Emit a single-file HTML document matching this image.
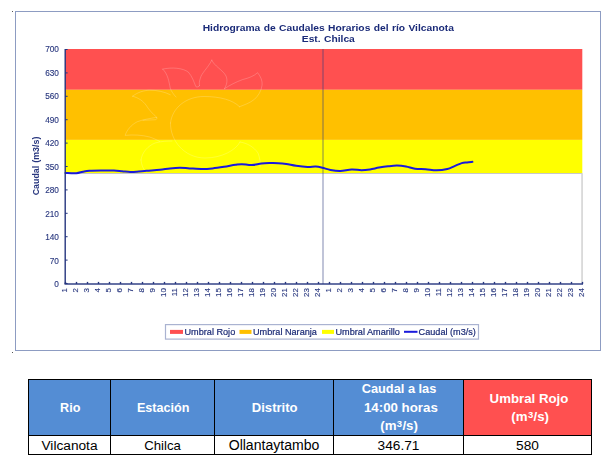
<!DOCTYPE html>
<html><head><meta charset="utf-8">
<style>
html,body{margin:0;padding:0;background:#fff;}
body{width:612px;height:465px;position:relative;overflow:hidden;font-family:"Liberation Sans",sans-serif;}
svg{position:absolute;left:0;top:0;filter:blur(0.35px);}
.ax{font-family:"Liberation Sans",sans-serif;font-size:8px;fill:#27367e;stroke:#27367e;stroke-width:0.12px;}
.ttl{font-family:"Liberation Sans",sans-serif;font-size:9.7px;font-weight:bold;fill:#1a2a78;}
.lg{font-family:"Liberation Sans",sans-serif;font-size:9.15px;fill:#1c2b76;stroke:#1c2b76;stroke-width:0.2px;}
table{position:absolute;left:28px;top:379px;border-collapse:collapse;table-layout:fixed;width:564px;}
td,th{border:1px solid #000;text-align:center;padding:0;font-family:"Liberation Sans",sans-serif;}
th{color:#fff;font-weight:bold;font-size:12.6px;height:55px;background:#548dd4;line-height:18px;}
th div{height:55px;display:flex;flex-direction:column;justify-content:center;overflow:visible;}
th div span{display:block;line-height:18.6px;height:18.6px;position:relative;}
th i{font-style:normal;font-size:9.5px;position:relative;top:-3.6px;margin:0 0.3px;}
th.b{font-size:13.1px;}
th.r{background:#ff5050;}
td{height:17px;padding-top:1px;font-size:13.7px;line-height:17px;color:#000;background:#fff;}
</style></head><body>
<svg width="612" height="465" viewBox="0 0 612 465">
<rect x="15.5" y="11.5" width="585" height="339" fill="#fff" stroke="#8d9cc2" stroke-width="1"/>
<rect x="12" y="11" width="1" height="1" fill="#555"/>
<rect x="12" y="352" width="1" height="1" fill="#555"/>
<rect x="65" y="49" width="517.3" height="40.8" fill="#ff5050"/>
<rect x="65" y="89.8" width="517.3" height="50.1" fill="#ffc000"/>
<rect x="65" y="139.9" width="517.3" height="33.6" fill="#ffff00"/>
<rect x="65" y="173" width="517.3" height="1" fill="#c8c8c8"/>
<rect x="581.3" y="173.5" width="1.5" height="110" fill="#d2d2d2"/>
<g fill="none" stroke="#fff" stroke-opacity="0.22" stroke-width="0.9" stroke-linecap="round" stroke-linejoin="round">
<path d="M170.5,123 C172,108 186,96.5 204,96.5 C220,96.5 233,100 239.5,106.7"/>
<path d="M170.5,123 C170,140 184,158 205,158 C222,158 236,150 240,142"/>
<path d="M162.7,69.1 C172,67 183,68 188.3,72.1 C192,76 194,82 195.8,86.5 C197,87.5 199,87 199.5,85.7"/>
<path d="M162.7,69.1 C168,74 169,82 170.2,88 C171,91 174,95 176,97"/>
<path d="M211.8,60.1 C208,68 201.5,73 200.4,78.1 C199.3,81 199,84 199.5,85.7"/>
<path d="M211.8,60.1 C214,66 223,70 226,76 C228,81 226.5,85 224.5,88.7"/>
<path d="M224.5,88.7 C230,85 236,82 242.5,79.6 C249,78 254,76 257.6,72.7 C261,77 262.5,81 262.1,85 C261.5,91 258,96 254.6,99.2 C250,103 244,105 239.5,106.7"/>
<path d="M132.6,96.2 C138,92 144,90.5 149.2,90.2 C157,90 165,92 170.2,94.7"/>
<path d="M132.6,96.2 C139,98 143,101 146.1,105.2 C149,110 153,114 156.7,117.3 C157.5,119 156,120 154,119.8 L143.1,120.3"/>
<path d="M156.7,117.3 C150,118.5 143,119.5 137.1,121.8 C131,125 127,130 125.1,135.4 C133,134.5 142,135 149.2,136.9 C153,138 157,140 159.7,141.4"/>
<path d="M141,160 C142,152 148,146 155,143 C162,141 168,141 172,141"/>
<path d="M141,160 C141.5,165 143,169 146,172"/>
<path d="M240,142 C247,143 254,147 258,153 C260,158 260.5,163 260,167"/>
</g>
<rect x="322.4" y="49" width="1.2" height="235" fill="#2f3b80" fill-opacity="0.5"/>
<path d="M65.50,173.00 C67.30,173.03 73.40,173.42 76.30,173.20 C79.20,172.98 80.72,172.12 82.90,171.70 C85.08,171.28 86.42,170.92 89.40,170.70 C92.38,170.48 96.72,170.43 100.80,170.40 C104.88,170.37 110.37,170.37 113.90,170.50 C117.43,170.63 119.27,170.95 122.00,171.20 C124.73,171.45 127.83,171.90 130.30,172.00 C132.77,172.10 134.08,171.99 136.80,171.80 C139.52,171.61 142.73,171.20 146.60,170.85 C150.47,170.50 156.10,170.11 160.00,169.70 C163.90,169.29 166.70,168.72 170.00,168.40 C173.30,168.08 176.53,167.80 179.80,167.80 C183.07,167.80 185.78,168.19 189.60,168.40 C193.42,168.61 198.88,169.05 202.70,169.05 C206.52,169.05 208.95,168.78 212.50,168.40 C216.05,168.03 220.18,167.40 224.00,166.80 C227.82,166.20 232.42,165.24 235.40,164.80 C238.38,164.36 239.18,164.10 241.90,164.15 C244.62,164.20 248.43,165.21 251.70,165.10 C254.97,164.99 258.45,163.83 261.50,163.50 C264.55,163.17 267.22,163.15 270.00,163.10 C272.78,163.05 275.48,163.05 278.20,163.20 C280.92,163.35 283.32,163.57 286.30,164.00 C289.28,164.43 292.55,165.32 296.10,165.80 C299.65,166.28 304.32,166.77 307.60,166.90 C310.88,167.03 313.35,166.46 315.80,166.60 C318.25,166.74 319.85,167.18 322.30,167.75 C324.75,168.32 327.50,169.46 330.50,170.00 C333.50,170.54 336.77,171.10 340.30,171.00 C343.83,170.90 348.17,169.53 351.70,169.40 C355.23,169.27 358.45,170.20 361.50,170.20 C364.55,170.20 367.08,169.83 370.00,169.40 C372.92,168.97 376.00,168.12 379.00,167.60 C382.00,167.08 385.00,166.63 388.00,166.30 C391.00,165.97 394.00,165.57 397.00,165.60 C400.00,165.63 403.00,165.98 406.00,166.50 C409.00,167.02 411.72,168.25 415.00,168.70 C418.28,169.15 422.12,168.93 425.70,169.20 C429.28,169.47 432.90,170.33 436.50,170.30 C440.10,170.27 444.30,169.70 447.30,169.00 C450.30,168.30 452.10,167.08 454.50,166.10 C456.90,165.12 459.62,163.72 461.70,163.10 C463.78,162.48 465.22,162.62 467.00,162.40 C468.78,162.18 471.50,161.90 472.40,161.80" fill="none" stroke="#1a1adc" stroke-width="2" stroke-linecap="round"/>
<rect x="64.5" y="49" width="1.4" height="235" fill="#26367f"/>
<rect x="64.5" y="283.3" width="518.5" height="1.4" fill="#26367f"/>
<text x="58.9" y="287.0" text-anchor="end" class="ax" style="font-size:8.25px">0</text>
<rect x="65" y="283.0" width="2.6" height="1" fill="#26367f"/>
<text x="58.9" y="263.6" text-anchor="end" class="ax" style="font-size:8.25px">70</text>
<rect x="65" y="259.6" width="2.6" height="1" fill="#26367f"/>
<text x="58.9" y="240.1" text-anchor="end" class="ax" style="font-size:8.25px">140</text>
<rect x="65" y="236.2" width="2.6" height="1" fill="#26367f"/>
<text x="58.9" y="216.6" text-anchor="end" class="ax" style="font-size:8.25px">210</text>
<rect x="65" y="212.8" width="2.6" height="1" fill="#26367f"/>
<text x="58.9" y="193.1" text-anchor="end" class="ax" style="font-size:8.25px">280</text>
<rect x="65" y="189.4" width="2.6" height="1" fill="#26367f"/>
<text x="58.9" y="169.6" text-anchor="end" class="ax" style="font-size:8.25px">350</text>
<rect x="65" y="166.0" width="2.6" height="1" fill="#26367f"/>
<text x="58.9" y="146.1" text-anchor="end" class="ax" style="font-size:8.25px">420</text>
<rect x="65" y="142.6" width="2.6" height="1" fill="#26367f"/>
<text x="58.9" y="122.6" text-anchor="end" class="ax" style="font-size:8.25px">490</text>
<rect x="65" y="119.2" width="2.6" height="1" fill="#26367f"/>
<text x="58.9" y="99.1" text-anchor="end" class="ax" style="font-size:8.25px">560</text>
<rect x="65" y="95.8" width="2.6" height="1" fill="#26367f"/>
<text x="58.9" y="75.6" text-anchor="end" class="ax" style="font-size:8.25px">630</text>
<rect x="65" y="72.4" width="2.6" height="1" fill="#26367f"/>
<text x="58.9" y="52.1" text-anchor="end" class="ax" style="font-size:8.25px">700</text>
<rect x="65" y="49.0" width="2.6" height="1" fill="#26367f"/>
<rect x="64.8" y="281.9" width="1.4" height="2" fill="#26367f"/>
<text transform="translate(67.1,288) rotate(-90)" text-anchor="end" class="ax">1</text>
<rect x="75.8" y="281.9" width="1.4" height="2" fill="#26367f"/>
<text transform="translate(78.1,288) rotate(-90)" text-anchor="end" class="ax">2</text>
<rect x="86.8" y="281.9" width="1.4" height="2" fill="#26367f"/>
<text transform="translate(89.1,288) rotate(-90)" text-anchor="end" class="ax">3</text>
<rect x="97.8" y="281.9" width="1.4" height="2" fill="#26367f"/>
<text transform="translate(100.1,288) rotate(-90)" text-anchor="end" class="ax">4</text>
<rect x="108.8" y="281.9" width="1.4" height="2" fill="#26367f"/>
<text transform="translate(111.1,288) rotate(-90)" text-anchor="end" class="ax">5</text>
<rect x="119.8" y="281.9" width="1.4" height="2" fill="#26367f"/>
<text transform="translate(122.1,288) rotate(-90)" text-anchor="end" class="ax">6</text>
<rect x="130.8" y="281.9" width="1.4" height="2" fill="#26367f"/>
<text transform="translate(133.1,288) rotate(-90)" text-anchor="end" class="ax">7</text>
<rect x="141.8" y="281.9" width="1.4" height="2" fill="#26367f"/>
<text transform="translate(144.1,288) rotate(-90)" text-anchor="end" class="ax">8</text>
<rect x="152.8" y="281.9" width="1.4" height="2" fill="#26367f"/>
<text transform="translate(155.1,288) rotate(-90)" text-anchor="end" class="ax">9</text>
<rect x="163.8" y="281.9" width="1.4" height="2" fill="#26367f"/>
<text transform="translate(166.1,288) rotate(-90)" text-anchor="end" class="ax">10</text>
<rect x="174.8" y="281.9" width="1.4" height="2" fill="#26367f"/>
<text transform="translate(177.1,288) rotate(-90)" text-anchor="end" class="ax">11</text>
<rect x="185.8" y="281.9" width="1.4" height="2" fill="#26367f"/>
<text transform="translate(188.1,288) rotate(-90)" text-anchor="end" class="ax">12</text>
<rect x="196.8" y="281.9" width="1.4" height="2" fill="#26367f"/>
<text transform="translate(199.1,288) rotate(-90)" text-anchor="end" class="ax">13</text>
<rect x="207.8" y="281.9" width="1.4" height="2" fill="#26367f"/>
<text transform="translate(210.1,288) rotate(-90)" text-anchor="end" class="ax">14</text>
<rect x="218.8" y="281.9" width="1.4" height="2" fill="#26367f"/>
<text transform="translate(221.1,288) rotate(-90)" text-anchor="end" class="ax">15</text>
<rect x="229.8" y="281.9" width="1.4" height="2" fill="#26367f"/>
<text transform="translate(232.1,288) rotate(-90)" text-anchor="end" class="ax">16</text>
<rect x="240.8" y="281.9" width="1.4" height="2" fill="#26367f"/>
<text transform="translate(243.1,288) rotate(-90)" text-anchor="end" class="ax">17</text>
<rect x="251.8" y="281.9" width="1.4" height="2" fill="#26367f"/>
<text transform="translate(254.1,288) rotate(-90)" text-anchor="end" class="ax">18</text>
<rect x="262.8" y="281.9" width="1.4" height="2" fill="#26367f"/>
<text transform="translate(265.1,288) rotate(-90)" text-anchor="end" class="ax">19</text>
<rect x="273.8" y="281.9" width="1.4" height="2" fill="#26367f"/>
<text transform="translate(276.1,288) rotate(-90)" text-anchor="end" class="ax">20</text>
<rect x="284.8" y="281.9" width="1.4" height="2" fill="#26367f"/>
<text transform="translate(287.1,288) rotate(-90)" text-anchor="end" class="ax">21</text>
<rect x="295.8" y="281.9" width="1.4" height="2" fill="#26367f"/>
<text transform="translate(298.1,288) rotate(-90)" text-anchor="end" class="ax">22</text>
<rect x="306.8" y="281.9" width="1.4" height="2" fill="#26367f"/>
<text transform="translate(309.1,288) rotate(-90)" text-anchor="end" class="ax">23</text>
<rect x="317.8" y="281.9" width="1.4" height="2" fill="#26367f"/>
<text transform="translate(320.1,288) rotate(-90)" text-anchor="end" class="ax">24</text>
<rect x="328.8" y="281.9" width="1.4" height="2" fill="#26367f"/>
<text transform="translate(331.1,288) rotate(-90)" text-anchor="end" class="ax">1</text>
<rect x="339.8" y="281.9" width="1.4" height="2" fill="#26367f"/>
<text transform="translate(342.1,288) rotate(-90)" text-anchor="end" class="ax">2</text>
<rect x="350.8" y="281.9" width="1.4" height="2" fill="#26367f"/>
<text transform="translate(353.1,288) rotate(-90)" text-anchor="end" class="ax">3</text>
<rect x="361.8" y="281.9" width="1.4" height="2" fill="#26367f"/>
<text transform="translate(364.1,288) rotate(-90)" text-anchor="end" class="ax">4</text>
<rect x="372.8" y="281.9" width="1.4" height="2" fill="#26367f"/>
<text transform="translate(375.1,288) rotate(-90)" text-anchor="end" class="ax">5</text>
<rect x="383.8" y="281.9" width="1.4" height="2" fill="#26367f"/>
<text transform="translate(386.1,288) rotate(-90)" text-anchor="end" class="ax">6</text>
<rect x="394.8" y="281.9" width="1.4" height="2" fill="#26367f"/>
<text transform="translate(397.1,288) rotate(-90)" text-anchor="end" class="ax">7</text>
<rect x="405.8" y="281.9" width="1.4" height="2" fill="#26367f"/>
<text transform="translate(408.1,288) rotate(-90)" text-anchor="end" class="ax">8</text>
<rect x="416.8" y="281.9" width="1.4" height="2" fill="#26367f"/>
<text transform="translate(419.1,288) rotate(-90)" text-anchor="end" class="ax">9</text>
<rect x="427.8" y="281.9" width="1.4" height="2" fill="#26367f"/>
<text transform="translate(430.1,288) rotate(-90)" text-anchor="end" class="ax">10</text>
<rect x="438.8" y="281.9" width="1.4" height="2" fill="#26367f"/>
<text transform="translate(441.1,288) rotate(-90)" text-anchor="end" class="ax">11</text>
<rect x="449.8" y="281.9" width="1.4" height="2" fill="#26367f"/>
<text transform="translate(452.1,288) rotate(-90)" text-anchor="end" class="ax">12</text>
<rect x="460.8" y="281.9" width="1.4" height="2" fill="#26367f"/>
<text transform="translate(463.1,288) rotate(-90)" text-anchor="end" class="ax">13</text>
<rect x="471.8" y="281.9" width="1.4" height="2" fill="#26367f"/>
<text transform="translate(474.1,288) rotate(-90)" text-anchor="end" class="ax">14</text>
<rect x="482.8" y="281.9" width="1.4" height="2" fill="#26367f"/>
<text transform="translate(485.1,288) rotate(-90)" text-anchor="end" class="ax">15</text>
<rect x="493.8" y="281.9" width="1.4" height="2" fill="#26367f"/>
<text transform="translate(496.1,288) rotate(-90)" text-anchor="end" class="ax">16</text>
<rect x="504.8" y="281.9" width="1.4" height="2" fill="#26367f"/>
<text transform="translate(507.1,288) rotate(-90)" text-anchor="end" class="ax">17</text>
<rect x="515.8" y="281.9" width="1.4" height="2" fill="#26367f"/>
<text transform="translate(518.1,288) rotate(-90)" text-anchor="end" class="ax">18</text>
<rect x="526.8" y="281.9" width="1.4" height="2" fill="#26367f"/>
<text transform="translate(529.1,288) rotate(-90)" text-anchor="end" class="ax">19</text>
<rect x="537.8" y="281.9" width="1.4" height="2" fill="#26367f"/>
<text transform="translate(540.1,288) rotate(-90)" text-anchor="end" class="ax">20</text>
<rect x="548.8" y="281.9" width="1.4" height="2" fill="#26367f"/>
<text transform="translate(551.1,288) rotate(-90)" text-anchor="end" class="ax">21</text>
<rect x="559.8" y="281.9" width="1.4" height="2" fill="#26367f"/>
<text transform="translate(562.1,288) rotate(-90)" text-anchor="end" class="ax">22</text>
<rect x="570.8" y="281.9" width="1.4" height="2" fill="#26367f"/>
<text transform="translate(573.1,288) rotate(-90)" text-anchor="end" class="ax">23</text>
<rect x="581.8" y="281.9" width="1.4" height="2" fill="#26367f"/>
<text transform="translate(584.1,288) rotate(-90)" text-anchor="end" class="ax">24</text>

<text transform="translate(328.3,30.6) scale(1.06,1)" text-anchor="middle" class="ttl" word-spacing="0.5">Hidrograma de Caudales Horarios del río Vilcanota</text>
<text transform="translate(328.3,41.6) scale(1.06,1)" text-anchor="middle" class="ttl" word-spacing="0.5">Est. Chilca</text>
<text transform="translate(38.6,166) rotate(-90)" text-anchor="middle" class="ax" style="font-weight:bold;font-size:8.9px;stroke:none" word-spacing="0.5">Caudal (m3/s)</text>
<rect x="165.5" y="324.6" width="313" height="14.5" fill="#fff" stroke="#aab3d1" stroke-width="1.2"/>
<rect x="170" y="329.9" width="13" height="4" fill="#ff5050"/>
<text x="184.5" y="335" class="lg">Umbral Rojo</text>
<rect x="239.5" y="329.9" width="12" height="4" fill="#ffc000"/>
<text x="253" y="335" class="lg">Umbral Naranja</text>
<rect x="322" y="329.9" width="12" height="4" fill="#ffff00"/>
<text x="335.5" y="335" class="lg">Umbral Amarillo</text>
<rect x="404" y="330.8" width="13.5" height="2" fill="#1a1adc"/>
<text x="418.6" y="335" class="lg">Caudal (m3/s)</text>
</svg>
<table>
<colgroup><col style="width:82px"><col style="width:104px"><col style="width:119px"><col style="width:130px"><col style="width:128px"></colgroup>
<tr><th><div><span style="left:0.7px;top:0.8px">Rio</span></div></th><th><div><span style="left:0.7px;top:0.8px">Estación</span></div></th><th><div><span style="left:0.7px;top:0.8px;font-size:13.1px">Distrito</span></div></th><th class="b"><div><span style="left:0.5px;top:0.3px;font-size:12.8px">Caudal a las</span><span style="left:2.4px;top:0.8px;font-size:13.3px">14:00 horas</span><span style="left:0.6px;top:0.3px;font-size:13.3px">(m<i>3</i>/s)</span></div></th><th class="r b"><div><span style="left:1.5px;top:0.7px;font-size:13.25px">Umbral Rojo</span><span style="left:2.7px;top:0.6px;font-size:13.3px">(m<i>3</i>/s)</span></div></th></tr>
<tr><td>Vilcanota</td><td style="font-size:13.2px">Chilca</td><td style="font-size:14.05px">Ollantaytambo</td><td>346.71</td><td>580</td></tr>
</table>
</body></html>
